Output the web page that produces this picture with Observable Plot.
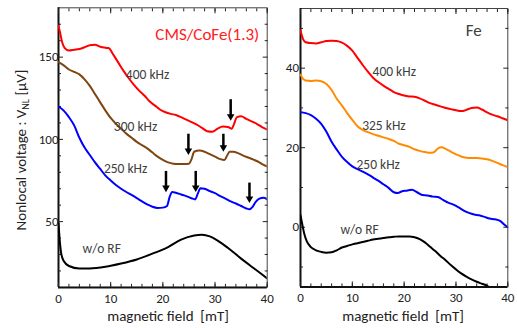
<!DOCTYPE html>
<html><head><meta charset="utf-8">
<script src="https://cdn.jsdelivr.net/npm/d3@7"></script>
<script src="https://cdn.jsdelivr.net/npm/@observablehq/plot@0.6"></script>
<style>
body{margin:0;background:#fff}
#wrap{position:relative;width:517px;height:328px;overflow:hidden;background:#fff}
#wrap svg{position:absolute;top:0;overflow:visible}
</style>
</head><body><div id="wrap"></div>
<script>
// ---------- tick values ----------
const xMajor = [0, 10, 20, 30, 40];
const xMinor = [0, 2, 4, 6, 8, 10, 12, 14, 16, 18, 20, 22, 24, 26, 28, 30, 32, 34, 36, 38, 40];
const cmsYLabeled = [50, 100, 150];
const cmsYMinor = [20, 30, 40, 60, 70, 80, 90, 110, 120, 130, 140, 160, 170];
const feYLabeled = [0, 20, 40];
const feYMinor = [-10, 10, 30, 50];
const xDomain = [0, 40];
const cmsYDomain = [10, 180];
const feYDomain = [-15, 55];

// ---------- CMS/CoFe(1.3) panel ----------
const cmsF400 = [0,0.3,0.7,1.2,2,3,4,5,6,7,8,9,9.6,10.5,11.5,12.5,13.5,14.5,15.5,16.5,17.5,18.5,19.5,20.5,21.5,22.5,23.5,24.5,25.5,26.5,27.5,28.5,29.5,30.5,31.5,32.5,33.2,33.6,34.2,35,36,37,38,39,40];
const cmsV400 = [169,165,159,155.5,154,154.5,155,156,157.2,157.5,156.3,155.7,155.5,151.5,146.5,141.5,137,133,129.5,126.5,123,120.5,118,116.5,115.5,114.8,113.5,112,110.5,109,107,105,104.7,106.5,107.8,107.5,106.5,109,113.5,114,112.5,111,109.5,107.5,106];

const cmsF300 = [0,1,2,3,4,5,6,7,8,9,10,11,12,13,14,15,16,17,18,19,20,21,22,23,24,25,25.5,26,27,28,29,30,31,31.8,32.3,32.8,33.5,34.5,35.5,36.5,37.5,38.5,39.3,40];
const cmsV300 = [147,145,142.5,141,139.5,136.5,132.5,127.5,122.5,117.5,113,109.5,106.5,103.5,101,98.5,96.5,94.5,92,89.5,87.5,86,85.2,85,85,85.2,88,92.5,93.2,92.5,91,89.5,88,87.5,90,92.5,92.5,91.5,90,88.8,87.5,86,84.5,83.5];

const cmsF250 = [0,1,2,3,4,5,6,7,8,9,10,11,12,13,14,15,16,17,18,19,20,20.8,21.3,21.8,22.5,23.5,24.5,25.5,26.2,26.7,27.2,28,29,30,31,32,33,34,35,36,36.6,37.2,37.8,38.5,39.3,40];
const cmsV250 = [120,117.5,113.5,108.5,101,95,90.5,86,82,78,75,72.3,70,68,66.2,64.3,62.3,60.5,59,58.3,58.5,59.5,65,68,67.5,66.5,65.5,64.2,63.5,67,70.3,70,68.5,67.3,65.5,64,62.3,61,59.5,58,57.5,59,62,64,64.5,63.5];

const cmsF0 = [0,0.2,0.5,1,2,4,6,9,12,15,18,21,23.5,26,27.5,29,30.5,32.5,35,37.5,40];
const cmsV0 = [49,40,31,26,23,21.5,21.5,22.5,24.5,27,30.5,34.5,39,41.5,42,41,38.5,34,27.5,21.5,15.5];

const cmsArrowX = [33, 24.9, 31.6, 20.6, 26.3, 36.6];
const cmsArrowTop = [122, 101, 101, 78.4, 78.4, 71.3];
const cmsArrowTip = [111.3, 90.5, 92.4, 67.9, 68, 61.3];

const cmsLabelText = ["400 kHz", "300 kHz", "250 kHz", "w/o RF"];
const cmsLabelX = [12.9, 10.6, 8.7, 4.6];
const cmsLabelY = [139.5, 108, 82.4, 33.4];
const cmsTitle = "CMS/CoFe(1.3)";

// ---------- Fe panel ----------
const feF400 = [0,0.5,1,2,3,4,5,6,7,8,9,10,11,12,13,14,15,16,17,18,19,20,21,22,23,24,25,26,27,28,29,30,31,32,33,34,35,36,37,38,39,40];
const feV400 = [49.5,47.3,46.5,46.3,46.2,46.5,46.8,46.9,46.8,46.4,45.6,44.4,42.6,40.8,39.1,37.6,36.5,35.6,34.8,34,33.5,33.1,32.9,32.8,32.4,31.8,31.2,30.8,30.4,30,29.7,29.4,29.2,29.5,30,30.1,29.6,28.9,28.3,27.9,27.4,26.9];

const feF325 = [0,0.5,1,2,3,4,5,6,7,8,9,10,11,12,13,14,15,16,17,18,19,20,21,22,23,24,25,25.8,26.5,27.2,28,29,30,31,32,33,34,35,36,37,38,39,40];
const feV325 = [38.4,37.3,36.9,36.8,36.9,36.7,36,34.5,32.3,30.6,28.7,27,25.4,24.5,23.9,23.4,23,22.6,22.2,21.7,21,20.6,20.2,19.6,19.2,18.9,18.7,18.9,19.8,20.1,19.7,19,18.3,17.8,17.5,17.4,17.4,17.3,17.1,16.7,16.2,15.6,15.1];

const feF250 = [0,1,2,3,4,5,6,7,8,9,10,11,12,13,14,15,16,17,18,18.8,19.5,20.5,21.5,22.5,23.5,24.5,25.5,26.5,27.5,28.5,29.5,30.5,31.5,32.5,33.5,34.5,35.5,36.5,37.5,38.5,39.3,40];
const feV250 = [28.9,28.7,28.2,27.3,26,24,21.5,19.5,17.7,16.4,15.3,14.6,14,13.3,12.5,11.7,10.8,9.9,8.8,8.6,9,9.2,9.4,8.8,8.1,8,7.7,7.6,6.9,6.2,5.7,5,4.2,3.6,3.2,3,2.6,2.2,2,1.6,0.7,0];

const feF0 = [0,0.3,0.7,1.2,2,3,4,5,6,7,8,9,10,11,12,13,14,15,16,17,18,19,20,21,22,23,24,25,26,27,28,29,30,31,32,33,34,35,36,36.3];
const feV0 = [3,1,-1.5,-3.5,-5,-5.8,-6.2,-6.4,-6.3,-5.8,-5.1,-4.7,-4.3,-4,-3.7,-3.4,-3.1,-2.9,-2.7,-2.5,-2.4,-2.3,-2.3,-2.3,-2.5,-3,-3.8,-4.9,-6,-7.2,-8.3,-9.5,-10.6,-11.6,-12.4,-13.1,-13.7,-14.2,-14.7,-15];

const feLabelText = ["400 kHz", "325 kHz", "250 kHz", "w/o RF"];
const feLabelX = [13.9, 11.9, 10.8, 7.7];
const feLabelY = [39.2, 25.6, 15.8, -0.6];
const feTitle = "Fe";

// ---------- helpers ----------
const FONT = "Carlito, Lato, 'Open Sans', sans-serif";
const rows = (xs, ys) => xs.map((x, i) => ({x, y: ys[i]}));
const labelRows = (t, xs, ys) => t.map((s, i) => ({t: s, x: xs[i], y: ys[i]}));

function frameAndAxes(yDomain, yLab, yMin, padY) {
  return [
    Plot.frame({stroke: "#444", strokeWidth: 1}),
    Plot.ruleX([xDomain[0]], {stroke: "#111", strokeWidth: 2}),
    Plot.ruleY([yDomain[0]], {stroke: "#111", strokeWidth: 2}),
    Plot.axisX({anchor: "bottom", ticks: xMajor, tickSize: -5, tickPadding: 11, label: null, tickFormat: d => d, stroke: "#222", fill: "#222", fontSize: 13}),
    Plot.axisX({anchor: "bottom", ticks: xMinor, tickSize: -3, fill: "none", label: null, stroke: "#222"}),
    Plot.axisX({anchor: "top", ticks: xMajor, tickSize: -5, fill: "none", label: null, stroke: "#222"}),
    Plot.axisX({anchor: "top", ticks: xMinor, tickSize: -3, fill: "none", label: null, stroke: "#222"}),
    Plot.axisY({anchor: "left", ticks: yLab, tickSize: -5, tickPadding: 5 + padY, label: null, tickFormat: d => d, stroke: "#222", fill: "#222", fontSize: 13}),
    Plot.axisY({anchor: "left", ticks: yMin, tickSize: -3, fill: "none", label: null, stroke: "#222"}),
    Plot.axisY({anchor: "right", ticks: yLab, tickSize: -5, fill: "none", label: null, stroke: "#222"}),
    Plot.axisY({anchor: "right", ticks: yMin, tickSize: -3, fill: "none", label: null, stroke: "#222"})
  ];
}

const line = (xs, ys, color) => Plot.line(rows(xs, ys), {x: "x", y: "y", stroke: color, strokeWidth: 2, curve: "monotone-x", clip: true});

// ---------- left plot ----------
const arrowRows = cmsArrowX.map((x, i) => ({x, top: cmsArrowTop[i], tip: cmsArrowTip[i]}));
const left = Plot.plot({
  width: 285, height: 328,
  marginLeft: 58, marginRight: 18.3, marginTop: 7.3, marginBottom: 41.1,
  x: {domain: xDomain},
  y: {domain: cmsYDomain},
  style: {fontFamily: FONT, fontSize: "13px", background: "transparent", color: "#222"},
  marks: [
    ...frameAndAxes(cmsYDomain, cmsYLabeled, cmsYMinor, 0),
    line(cmsF0, cmsV0, "#000000"),
    line(cmsF250, cmsV250, "#0000ff"),
    line(cmsF300, cmsV300, "#7f4512"),
    line(cmsF400, cmsV400, "#ff0000"),
    Plot.link(arrowRows, {x1: "x", x2: "x", y1: "top", y2: "tip", stroke: "#000", strokeWidth: 2.5, dy: -4}),
    Plot.dot(arrowRows, {x: "x", y: "tip", symbol: "triangle", rotate: 180, r: 2.8, fill: "#000", stroke: "none", dy: -4.4}),
    Plot.text(labelRows(cmsLabelText, cmsLabelX, cmsLabelY), {x: "x", y: "y", text: "t", textAnchor: "start", fill: "#404040", fontSize: 13.5}),
    Plot.text([cmsTitle], {x: xDomain[1], y: cmsYDomain[1], text: d => d, textAnchor: "end", frameAnchor: "top-right", dx: -8, dy: 20, fill: "#ff2020", fontSize: 17})
  ]
});

// ---------- right plot ----------
const right = Plot.plot({
  width: 247, height: 328,
  marginLeft: 30, marginRight: 9.7, marginTop: 8, marginBottom: 41.6,
  x: {domain: xDomain},
  y: {domain: feYDomain},
  style: {fontFamily: FONT, fontSize: "13px", background: "transparent", color: "#222"},
  marks: [
    ...frameAndAxes(feYDomain, feYLabeled, feYMinor, 1.5),
    line(feF0, feV0, "#000000"),
    line(feF250, feV250, "#0000ff"),
    line(feF325, feV325, "#ff8c00"),
    line(feF400, feV400, "#ff0000"),
    Plot.text(labelRows(feLabelText, feLabelX, feLabelY), {x: "x", y: "y", text: "t", textAnchor: "start", fill: "#404040", fontSize: 13.5}),
    Plot.text([feTitle], {x: xDomain[1], y: feYDomain[1], text: d => d, textAnchor: "end", dx: -26, dy: 22, fill: "#404040", fontSize: 17})
  ]
});

const wrap = document.getElementById("wrap");
left.style.left = "0px";
right.style.left = "270px";
wrap.appendChild(left);
wrap.appendChild(right);

// axis titles
const ylab = d3.select(left).append("text")
  .attr("transform", "translate(26,150) rotate(-90)")
  .attr("text-anchor", "middle")
  .attr("font-family", FONT).attr("font-size", 15).attr("fill", "#222");
ylab.append("tspan").text("Nonlocal voltage : V");
ylab.append("tspan").attr("font-size", 10).attr("dy", 3).text("NL");
ylab.append("tspan").attr("dy", -3).text(" [\u03bcV]");

d3.select(left).append("text")
  .attr("x", 168).attr("y", 321).attr("text-anchor", "middle")
  .attr("font-family", FONT).attr("font-size", 15).attr("fill", "#222")
  .text("magnetic field\u00a0 [mT]");
d3.select(right).append("text")
  .attr("x", 133).attr("y", 321).attr("text-anchor", "middle")
  .attr("font-family", FONT).attr("font-size", 15).attr("fill", "#222")
  .text("magnetic field\u00a0 [mT]");
</script></body></html>
